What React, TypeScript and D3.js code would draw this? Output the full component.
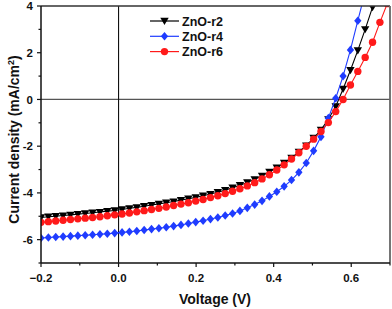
import React from "react";
import * as d3 from "d3";

const voltage = [-0.200, -0.181, -0.162, -0.143, -0.124, -0.105, -0.086, -0.067, -0.048, -0.029, -0.010, 0.009, 0.028, 0.047, 0.066, 0.085, 0.104, 0.123, 0.142, 0.161, 0.180, 0.199, 0.218, 0.237, 0.256, 0.275, 0.294, 0.313, 0.332, 0.351, 0.370, 0.389, 0.408, 0.427, 0.446, 0.465, 0.484, 0.503, 0.522, 0.541, 0.560, 0.579, 0.598, 0.617, 0.636, 0.655, 0.674, 0.693];

const r2 = [-5.05, -5.02, -5.0, -4.97, -4.94, -4.91, -4.88, -4.85, -4.82, -4.78, -4.75, -4.71, -4.66, -4.62, -4.57, -4.52, -4.47, -4.42, -4.37, -4.31, -4.25, -4.19, -4.12, -4.05, -3.97, -3.88, -3.78, -3.67, -3.55, -3.42, -3.27, -3.1, -2.92, -2.72, -2.5, -2.25, -1.98, -1.65, -1.3, -0.85, -0.3, 0.45, 1.25, 2.1, 3.0, 3.95, 5.0, 6.0];

const r4 = [-5.93, -5.91, -5.89, -5.87, -5.85, -5.83, -5.81, -5.79, -5.77, -5.75, -5.72, -5.69, -5.66, -5.63, -5.59, -5.55, -5.51, -5.47, -5.42, -5.37, -5.31, -5.25, -5.19, -5.12, -5.05, -4.97, -4.88, -4.77, -4.64, -4.5, -4.34, -4.15, -3.95, -3.72, -3.45, -3.12, -2.72, -2.2, -1.6, -0.8, 0.05, 1.0, 2.12, 3.37, 4.6, 5.9, 7.2, 8.5];

const r6 = [-5.26, -5.23, -5.2, -5.17, -5.14, -5.11, -5.08, -5.05, -5.02, -4.98, -4.94, -4.9, -4.86, -4.81, -4.76, -4.71, -4.66, -4.6, -4.54, -4.48, -4.42, -4.35, -4.28, -4.2, -4.12, -4.03, -3.93, -3.82, -3.7, -3.56, -3.4, -3.22, -3.02, -2.8, -2.55, -2.28, -2.0, -1.7, -1.37, -0.99, -0.52, 0.0, 0.62, 1.2, 1.8, 2.45, 3.3, 4.1];

const seriesNames = ["ZnO-r2", "ZnO-r4", "ZnO-r6"];
const xMajorTicks = [-0.2, 0.0, 0.2, 0.4, 0.6];
const xMinorTicks = [-0.1, 0.1, 0.3, 0.5, 0.7];
const yMajorTicks = [4, 2, 0, -2, -4, -6];
const yMinorTicks = [3, 1, -1, -3, -5, -7];

const W = 392;
const H = 309;
const M = { left: 41, right: 390, top: 6, bottom: 263 };

const x = d3.scaleLinear().domain([-0.2, 0.7]).range([M.left, M.right]);
const y = d3.scaleLinear().domain([-7, 4]).range([M.bottom, M.top]);

const font = "'Liberation Sans', Arial, sans-serif";

type Marker = "tri" | "diamond" | "circle";

function MarkerShape({ kind, cx, cy, color }: { kind: Marker; cx: number; cy: number; color: string }) {
  if (kind === "tri") {
    const s = 4.2;
    return <path d={`M${cx - s},${cy - s * 0.75} L${cx + s},${cy - s * 0.75} L${cx},${cy + s * 0.95} Z`} fill={color} />;
  }
  if (kind === "diamond") {
    const s = 4.3;
    return <path d={`M${cx},${cy - s} L${cx + s * 0.85},${cy} L${cx},${cy + s} L${cx - s * 0.85},${cy} Z`} fill={color} />;
  }
  return <circle cx={cx} cy={cy} r={3.7} fill={color} />;
}

export default function App() {
  const series = [
    { name: seriesNames[0], values: r2, color: "#000000", marker: "tri" as Marker },
    { name: seriesNames[1], values: r4, color: "#1f3cff", marker: "diamond" as Marker },
    { name: seriesNames[2], values: r6, color: "#ff1a1a", marker: "circle" as Marker },
  ];
  const line = d3
    .line<number>()
    .x((_, i) => x(voltage[i]))
    .y((d) => y(d));

  return (
    <svg width={W} height={H} style={{ position: "absolute", left: 0, top: 0 }}>
      <defs>
        <clipPath id="plotClip">
          <rect x={M.left} y={M.top} width={M.right - M.left} height={M.bottom - M.top} />
        </clipPath>
      </defs>
      <rect x={0} y={0} width={W} height={H} fill="#fff" />
      {/* zero lines */}
      <line x1={M.left} x2={M.right} y1={y(0)} y2={y(0)} stroke="#555" strokeWidth={1.3} />
      <line x1={x(0)} x2={x(0)} y1={M.top} y2={M.bottom} stroke="#111" strokeWidth={1.1} />
      {/* series */}
      <g clipPath="url(#plotClip)">
        {series.map((s) => (
          <g key={s.name}>
            <path d={line(s.values) || ""} fill="none" stroke={s.color} strokeWidth={1.1} />
            {s.values.map((v, i) => (
              <MarkerShape key={i} kind={s.marker} cx={x(voltage[i])} cy={y(v)} color={s.color} />
            ))}
          </g>
        ))}
      </g>
      {/* frame */}
      <line x1={M.left} x2={M.right} y1={M.top} y2={M.top} stroke="#333" strokeWidth={1.5} />
      <line x1={M.right} x2={M.right} y1={M.top} y2={M.bottom} stroke="#666" strokeWidth={1.8} />
      <line x1={M.left} x2={M.left} y1={M.top} y2={M.bottom} stroke="#111" strokeWidth={1.5} />
      <line x1={M.left} x2={M.right} y1={M.bottom} y2={M.bottom} stroke="#111" strokeWidth={1.5} />
      {/* y ticks */}
      {yMajorTicks.map((t) => (
        <g key={"ym" + t}>
          <line x1={M.left - 4} x2={M.left} y1={y(t)} y2={y(t)} stroke="#111" strokeWidth={1.2} />
          <text x={M.left - 8} y={y(t)} dy="0.36em" textAnchor="end" fontFamily={font} fontWeight="bold" fontSize={11.5} fill="#111">
            {t}
          </text>
        </g>
      ))}
      {yMinorTicks.map((t) => (
        <line key={"yn" + t} x1={M.left - 2.5} x2={M.left} y1={y(t)} y2={y(t)} stroke="#111" strokeWidth={1.2} />
      ))}
      {/* x ticks */}
      {xMajorTicks.map((t) => (
        <g key={"xm" + t}>
          <line x1={x(t)} x2={x(t)} y1={M.bottom} y2={M.bottom + 4} stroke="#111" strokeWidth={1.2} />
          <text x={x(t)} y={M.bottom + 19} textAnchor="middle" fontFamily={font} fontWeight="bold" fontSize={11.5} fill="#111">
            {d3.format(".1f")(t)}
          </text>
        </g>
      ))}
      {xMinorTicks.map((t) => (
        <line key={"xn" + t} x1={x(t)} x2={x(t)} y1={M.bottom} y2={M.bottom + 2.5} stroke="#111" strokeWidth={1.2} />
      ))}
      {/* axis titles */}
      <text x={215} y={304} textAnchor="middle" fontFamily={font} fontWeight="bold" fontSize={14} fill="#111">
        Voltage (V)
      </text>
      <text
        transform={`translate(19,${(M.top + M.bottom) / 2 + 5}) rotate(-90)`}
        textAnchor="middle"
        fontFamily={font}
        fontWeight="bold"
        fontSize={14}
        fill="#111"
      >
        Current density (mA/cm<tspan dy={-5} fontSize={9}>2</tspan>
        <tspan dy={5}>)</tspan>
      </text>
      {/* legend */}
      {series.map((s, i) => {
        const ly = 21 + i * 15.3;
        return (
          <g key={"lg" + s.name}>
            <line x1={150} x2={179} y1={ly} y2={ly} stroke={s.color} strokeWidth={1.2} />
            <MarkerShape kind={s.marker} cx={164.5} cy={ly} color={s.color} />
            <text x={182} y={ly} dy="0.36em" fontFamily={font} fontWeight="bold" fontSize={12.5} fill="#111">
              {s.name}
            </text>
          </g>
        );
      })}
    </svg>
  );
}
